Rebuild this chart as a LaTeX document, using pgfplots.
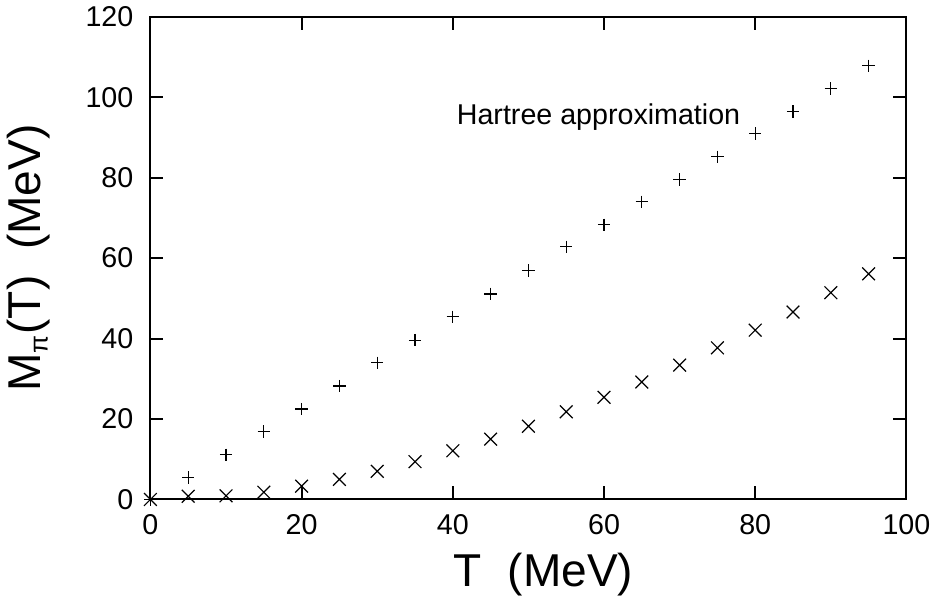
\documentclass[border=0pt]{standalone}
\usepackage{fontspec}
\setmainfont{Liberation Sans}
\usepackage{pgfplots}
\pgfplotsset{compat=1.18}

\pgfplotstableread{
T   M
0   0
5   5.5
10  11.1
15  16.9
20  22.5
25  28.2
30  34.0
35  39.6
40  45.4
45  51.1
50  56.9
55  62.8
60  68.3
65  74.0
70  79.6
75  85.2
80  91.0
85  96.5
90  102.2
95  107.8
}\hartree

\pgfplotstableread{
T   M
0   0
5   0.8
10  0.9
15  1.8
20  3.3
25  5.0
30  7.0
35  9.4
40  12.1
45  15.0
50  18.2
55  21.8
60  25.4
65  29.2
70  33.4
75  37.7
80  42.1
85  46.6
90  51.4
95  56.1
}\full

\begin{document}
\begin{tikzpicture}
\begin{axis}[
    width=377.5pt, height=241pt,
    scale only axis,
    xmin=0, xmax=100, ymin=0, ymax=120,
    xtick={0,20,...,100}, ytick={0,20,...,120},
    tick align=inside,
    major tick length=6.5pt,
    axis line style={line width=1pt},
    every tick/.style={line width=1pt, black},
    tick label style={font=\fontsize{14.3}{16}\selectfont},
    xticklabel style={yshift=-4pt},
    yticklabel style={xshift=-5pt},
    /pgf/number format/assume math mode=true,
    label style={font=\fontsize{23}{26}\selectfont},
    xlabel={T\ \ (MeV)},
    ylabel={M\textsubscript{\fontsize{13}{14}\selectfont π}(T)\ \ (MeV)},
    xlabel style={at={(axis description cs:0.52,-0.181)}, anchor=base},
    ylabel style={at={(axis description cs:-0.146,0.5)}, anchor=base},
    clip=false,
]
\addplot[only marks, mark=+, mark size=3.1pt, black, mark options={line width=0.6pt}] table[x=T, y=M] {\hartree};
\addplot[only marks, mark=x, mark size=4.5pt, black, mark options={line width=0.6pt}] table[x=T, y=M] {\full};
\node[anchor=west, font=\fontsize{14.3}{16}\selectfont] at (axis cs:39.6,95) {Hartree approximation};
\end{axis}
\end{tikzpicture}
\end{document}
